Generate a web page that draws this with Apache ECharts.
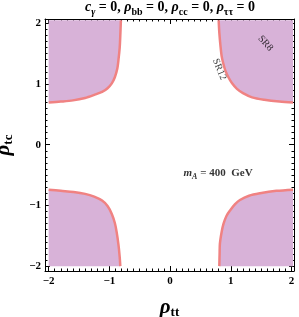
<!DOCTYPE html>
<html>
<head>
<meta charset="utf-8">
<script src="https://cdn.jsdelivr.net/npm/echarts@6/dist/echarts.min.js"></script>
<style>html,body{margin:0;padding:0;background:#fff}#c{width:299px;height:317px}</style>
</head>
<body>
<div id="c"></div>
<script>
// ---- data ----
const majorTicks = [-2, -1, 0, 1, 2];
const minorTicks = [-2.0,-1.9,-1.8,-1.7,-1.6,-1.5,-1.4,-1.3,-1.2,-1.1,-1.0,-0.9,-0.8,-0.7,-0.6,-0.5,-0.4,-0.3,-0.2,-0.1,0.0,
                    0.1,0.2,0.3,0.4,0.5,0.6,0.7,0.8,0.9,1.0,1.1,1.2,1.3,1.4,1.5,1.6,1.7,1.8,1.9,2.0];
const xRange = [-2.06, 2.04];
const yRange = [-2.08, 2.07];

// boundary curves (rho_tt, rho_tc)
const curveTR = [[0.80,2.05],[0.81,1.85],[0.83,1.62],[0.85,1.45],[0.88,1.32],[0.91,1.22],[0.96,1.11],[1.02,1.01],[1.10,0.92],[1.20,0.85],[1.35,0.78],[1.55,0.74],[1.80,0.71],[2.025,0.695]];
const curveTL = [[-2.0,0.695],[-1.80,0.71],[-1.60,0.73],[-1.40,0.77],[-1.25,0.82],[-1.12,0.87],[-1.03,0.93],[-0.96,1.01],[-0.91,1.11],[-0.87,1.25],[-0.85,1.40],[-0.83,1.60],[-0.82,1.80],[-0.81,2.05]];
const curveBL = [[-2.0,-0.74],[-1.80,-0.76],[-1.59,-0.78],[-1.40,-0.81],[-1.25,-0.855],[-1.12,-0.92],[-1.03,-1.01],[-0.96,-1.14],[-0.91,-1.29],[-0.88,-1.44],[-0.85,-1.65],[-0.83,-1.85],[-0.82,-2.0]];
const curveBR = [[0.81,-2.0],[0.815,-1.80],[0.82,-1.63],[0.85,-1.43],[0.88,-1.30],[0.93,-1.17],[0.99,-1.08],[1.07,-0.98],[1.15,-0.91],[1.30,-0.84],[1.48,-0.80],[1.75,-0.76],[2.025,-0.74]];
// region corners closing each shaded area
const cornerTR = [2.025, 2.05];
const cornerTL = [-2.0, 2.05];
const cornerBL = [-2.0, -2.0];
const cornerBR = [2.025, -2.0];

const annSR8 = [1.57, 1.67];
const annSR12 = [0.81, 1.24];
const annMass = [0.79, -0.47];

// ---- style ----
const FILL = '#d8b2d8';
const EDGE = '#f08282';
const SERIF = '"Liberation Serif","DejaVu Serif",serif';
const fmt = v => (v < 0 ? '\u2212' + (-v) : String(v));

const chart = echarts.init(document.getElementById('c'), null, {renderer: 'canvas'});

function regionSeries(curve, corner) {
  const pts = curve.concat([corner]);
  return {
    type: 'custom', xAxisIndex: 0, yAxisIndex: 0, silent: true, z: 1,
    data: [[pts[0][0], pts[0][1]]],
    renderItem: function (params, api) {
      return {type: 'polygon', shape: {points: pts.map(p => api.coord(p))}, style: {fill: FILL, stroke: null}};
    }
  };
}
function edgeSeries(curve) {
  return {type: 'line', xAxisIndex: 0, yAxisIndex: 0, data: curve, smooth: 0.3, showSymbol: false, silent: true, z: 3,
    lineStyle: {color: EDGE, width: 2.5}};
}
function annot(pos, text, rotate, rich, size) {
  return {type: 'scatter', xAxisIndex: 0, yAxisIndex: 0, data: [pos], symbolSize: 0, silent: true, z: 5,
    label: {show: true, position: 'inside', formatter: text, rotate: rotate, color: '#000', fontFamily: SERIF, fontSize: size || 10, rich: rich}};
}

const baseAxis = (pos, range, gridIndex) => ({
  type: 'value', position: pos, gridIndex: gridIndex, min: range[0], max: range[1],
  splitLine: {show: false}, axisPointer: {show: false}
});
const lineStyle = {color: '#000', width: 1};
const nameRich = {
  g: {fontFamily: SERIF, fontStyle: 'italic', fontWeight: 'bold', fontSize: 21, color: '#000', lineHeight: 22},
  s: {fontFamily: SERIF, fontWeight: 'bold', fontSize: 13, color: '#000', verticalAlign: 'bottom', lineHeight: 16}
};

const xAxes = [
  Object.assign(baseAxis('bottom', xRange, 0), {
    axisLine: {show: true, onZero: false, lineStyle: lineStyle},
    axisTick: {show: true, inside: true, length: 5, customValues: majorTicks, lineStyle: lineStyle},
    axisLabel: {show: true, customValues: majorTicks, formatter: fmt, color: '#000', fontFamily: SERIF, fontWeight: 'bold', fontSize: 11, margin: 5},
    name: '{g|ρ}{s|tt}', nameLocation: 'middle', nameGap: 26,
    nameTextStyle: {rich: nameRich}
  }),
  Object.assign(baseAxis('top', xRange, 0), {
    axisLine: {show: true, onZero: false, lineStyle: lineStyle},
    axisTick: {show: true, inside: true, length: 5, customValues: majorTicks, lineStyle: lineStyle},
    axisLabel: {show: false}
  }),
  Object.assign(baseAxis('bottom', xRange, 1), {
    axisLine: {show: false, onZero: false},
    axisTick: {show: true, inside: true, length: 2.5, customValues: minorTicks, lineStyle: lineStyle},
    axisLabel: {show: false}
  }),
  Object.assign(baseAxis('top', xRange, 1), {
    axisLine: {show: false, onZero: false},
    axisTick: {show: true, inside: true, length: 2.5, customValues: minorTicks, lineStyle: lineStyle},
    axisLabel: {show: false}
  })
];
const yAxes = [
  Object.assign(baseAxis('left', yRange, 0), {
    axisLine: {show: true, onZero: false, lineStyle: lineStyle},
    axisTick: {show: true, inside: true, length: 5, customValues: majorTicks, lineStyle: lineStyle},
    axisLabel: {show: true, customValues: majorTicks, formatter: fmt, color: '#000', fontFamily: SERIF, fontWeight: 'bold', fontSize: 11, margin: 4},
    name: '{g|ρ}{s|tc}', nameLocation: 'middle', nameGap: 30, nameRotate: 90,
    nameTextStyle: {rich: nameRich}
  }),
  Object.assign(baseAxis('right', yRange, 0), {
    axisLine: {show: true, onZero: false, lineStyle: lineStyle},
    axisTick: {show: true, inside: true, length: 5, customValues: majorTicks, lineStyle: lineStyle},
    axisLabel: {show: false}
  }),
  Object.assign(baseAxis('left', yRange, 1), {
    axisLine: {show: false, onZero: false},
    axisTick: {show: true, inside: true, length: 2.5, customValues: minorTicks, lineStyle: lineStyle},
    axisLabel: {show: false}
  }),
  Object.assign(baseAxis('right', yRange, 1), {
    axisLine: {show: false, onZero: false},
    axisTick: {show: true, inside: true, length: 2.5, customValues: minorTicks, lineStyle: lineStyle},
    axisLabel: {show: false}
  })
];

const gridRect = {left: 45, right: 5, top: 19, bottom: 46, containLabel: false, outerBoundsMode: 'none'};

const richTitle = {
  i: {fontFamily: SERIF, fontStyle: 'italic', fontWeight: 'bold', fontSize: 14, color: '#000'},
  is: {fontFamily: SERIF, fontStyle: 'italic', fontWeight: 'bold', fontSize: 10, color: '#000', verticalAlign: 'bottom', lineHeight: 19},
  n: {fontFamily: SERIF, fontWeight: 'bold', fontSize: 14, color: '#000'},
  g: {fontFamily: SERIF, fontStyle: 'italic', fontWeight: 'bold', fontSize: 14, color: '#000'},
  s: {fontFamily: SERIF, fontWeight: 'bold', fontSize: 10, color: '#000', verticalAlign: 'bottom', lineHeight: 19}
};

const massRich = {
  m: {fontFamily: SERIF, fontStyle: 'italic', fontWeight: 'bold', fontSize: 11, color: '#000'},
  a: {fontFamily: SERIF, fontStyle: 'italic', fontWeight: 'bold', fontSize: 8, color: '#000', verticalAlign: 'bottom', lineHeight: 15},
  n: {fontFamily: SERIF, fontWeight: 'bold', fontSize: 11, color: '#000'}
};

chart.setOption({
  animation: false,
  backgroundColor: '#fff',
  title: {
    text: '{i|c}{is|γ}{n| = 0, }{g|ρ}{s|bb}{n| = 0, }{g|ρ}{s|cc}{n| = 0, }{g|ρ}{s|ττ}{n| = 0}',
    left: 170, top: -2, textAlign: 'center', padding: 0,
    textStyle: {rich: richTitle, lineHeight: 19}
  },
  grid: [Object.assign({}, gridRect), Object.assign({}, gridRect)],
  xAxis: xAxes,
  yAxis: yAxes,
  series: [
    regionSeries(curveTR, cornerTR), regionSeries(curveTL, cornerTL),
    regionSeries(curveBL, cornerBL), regionSeries(curveBR, cornerBR),
    edgeSeries(curveTR), edgeSeries(curveTL), edgeSeries(curveBL), edgeSeries(curveBR),
    annot(annSR8, 'SR8', -48, null, 10),
    annot(annSR12, 'SR12', -68, null, 10),
    annot(annMass, '{m|m}{a|A}{n| = 400  GeV}', 0, massRich, 11)
  ]
});
</script>
</body>
</html>
